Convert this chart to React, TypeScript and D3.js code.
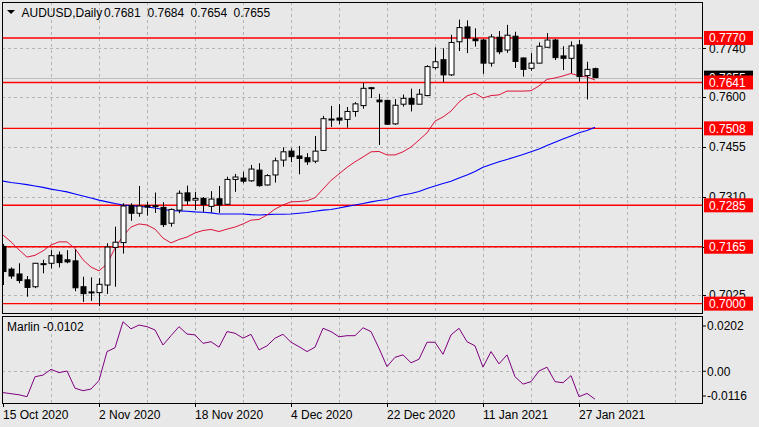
import React, { useEffect, useRef } from 'react';
import * as d3 from 'd3';

const W = 759;
const H = 427;

// daily candles, 15 Oct 2020 .. 29 Jan 2021
const opens = [
  0.7166, 0.7100, 0.7086, 0.7069, 0.7049, 0.7114, 0.7117, 0.7141, 0.7127, 0.7124,
  0.7049, 0.7033, 0.7032, 0.7054, 0.7163, 0.7177, 0.7284, 0.7262, 0.7284, 0.7283,
  0.7279, 0.7233, 0.7271, 0.7321, 0.7300, 0.7305, 0.7282, 0.7304, 0.7288, 0.7360,
  0.7364, 0.7356, 0.7387, 0.7344, 0.7373, 0.7416, 0.7442, 0.7428, 0.7423, 0.7413,
  0.7444, 0.7534, 0.7538, 0.7534, 0.7557, 0.7574, 0.7625, 0.7590, 0.7589, 0.7521,
  0.7578, 0.7595, 0.7578, 0.7603, 0.7684, 0.7707, 0.7663, 0.7759, 0.7802, 0.7767,
  0.7764, 0.7697, 0.7772, 0.7735, 0.7775, 0.7712, 0.7682, 0.7697, 0.7743, 0.7764,
  0.7718, 0.7711, 0.7750, 0.7661, 0.7681,
];
const highs = [
  0.7173, 0.7105, 0.7117, 0.7080, 0.7118, 0.7127, 0.7155, 0.7151, 0.7155, 0.7157,
  0.7078, 0.7076, 0.7074, 0.7175, 0.7223, 0.7291, 0.7291, 0.7341, 0.7295, 0.7322,
  0.7294, 0.7276, 0.7328, 0.7342, 0.7324, 0.7309, 0.7326, 0.7341, 0.7368, 0.7376,
  0.7382, 0.7402, 0.7407, 0.7375, 0.7423, 0.7453, 0.7450, 0.7457, 0.7436, 0.7486,
  0.7544, 0.7573, 0.7578, 0.7570, 0.7584, 0.7640, 0.7628, 0.7608, 0.7590, 0.7593,
  0.7606, 0.7623, 0.7622, 0.7691, 0.7743, 0.7740, 0.7779, 0.7823, 0.7821, 0.7798,
  0.7767, 0.7781, 0.7790, 0.7808, 0.7788, 0.7713, 0.7726, 0.7757, 0.7784, 0.7767,
  0.7746, 0.7760, 0.7764, 0.7701, 0.7684,
];
const lows = [
  0.7054, 0.7072, 0.7059, 0.7020, 0.7045, 0.7088, 0.7102, 0.7105, 0.7117, 0.7036,
  0.7005, 0.7008, 0.6993, 0.7028, 0.7049, 0.7145, 0.7240, 0.7252, 0.7255, 0.7263,
  0.7222, 0.7223, 0.7262, 0.7286, 0.7271, 0.7266, 0.7264, 0.7263, 0.7287, 0.7324,
  0.7349, 0.7353, 0.7339, 0.7342, 0.7351, 0.7397, 0.7410, 0.7375, 0.7402, 0.7407,
  0.7444, 0.7512, 0.7520, 0.7510, 0.7542, 0.7565, 0.7596, 0.7460, 0.7518, 0.7518,
  0.7571, 0.7557, 0.7578, 0.7601, 0.7679, 0.7642, 0.7660, 0.7732, 0.7726, 0.7745,
  0.7666, 0.7687, 0.7723, 0.7727, 0.7683, 0.7658, 0.7675, 0.7697, 0.7743, 0.7706,
  0.7677, 0.7668, 0.7643, 0.7592, 0.7654,
];
const closes = [
  0.7093, 0.7080, 0.7067, 0.7047, 0.7117, 0.7116, 0.7139, 0.7119, 0.7121, 0.7046,
  0.7029, 0.7034, 0.7056, 0.7164, 0.7178, 0.7283, 0.7262, 0.7283, 0.7280, 0.7284,
  0.7229, 0.7273, 0.7320, 0.7298, 0.7305, 0.7287, 0.7303, 0.7286, 0.7360, 0.7367,
  0.7355, 0.7390, 0.7342, 0.7371, 0.7414, 0.7440, 0.7426, 0.7421, 0.7411, 0.7442,
  0.7536, 0.7535, 0.7532, 0.7557, 0.7579, 0.7624, 0.7626, 0.7585, 0.7520, 0.7575,
  0.7595, 0.7578, 0.7607, 0.7687, 0.7701, 0.7663, 0.7757, 0.7800, 0.7770, 0.7762,
  0.7697, 0.7773, 0.7730, 0.7778, 0.7702, 0.7679, 0.7697, 0.7746, 0.7764, 0.7713,
  0.7711, 0.7747, 0.7658, 0.7679, 0.7655,
];

// moving averages
const fastMA = [
  0.7199, 0.7179, 0.7156, 0.7135, 0.7140, 0.7153, 0.7170, 0.7179, 0.7179, 0.7160,
  0.7127, 0.7106, 0.7095, 0.7115, 0.7161, 0.7196, 0.7222, 0.7231, 0.7228, 0.7216,
  0.7190, 0.7176, 0.7186, 0.7193, 0.7205, 0.7212, 0.7215, 0.7209, 0.7216, 0.7222,
  0.7231, 0.7242, 0.7244, 0.7257, 0.7274, 0.7286, 0.7295, 0.7296, 0.7298, 0.7307,
  0.7332, 0.7357, 0.7376, 0.7395, 0.7411, 0.7425, 0.7440, 0.7441, 0.7431, 0.7431,
  0.7440, 0.7454, 0.7474, 0.7495, 0.7529, 0.7541, 0.7558, 0.7584, 0.7602, 0.7610,
  0.7596, 0.7603, 0.7605, 0.7616, 0.7616, 0.7616, 0.7617, 0.7631, 0.7650, 0.7654,
  0.7660, 0.7667, 0.7660, 0.7657, 0.7648,
];
const slowMA = [
  0.7355, 0.7351, 0.7348, 0.7345, 0.7341, 0.7337, 0.7332, 0.7328, 0.7324, 0.7318,
  0.7312, 0.7306, 0.7300, 0.7295, 0.7290, 0.7286, 0.7284, 0.7282, 0.7280, 0.7277,
  0.7273, 0.7270, 0.7269, 0.7268, 0.7266, 0.7265, 0.7263, 0.7260, 0.7260, 0.7260,
  0.7260, 0.7258, 0.7257, 0.7258, 0.7259, 0.7259, 0.7260, 0.7262, 0.7264, 0.7268,
  0.7271, 0.7273, 0.7277, 0.7282, 0.7286, 0.7290, 0.7295, 0.7299, 0.7302, 0.7309,
  0.7315, 0.7319, 0.7325, 0.7334, 0.7341, 0.7348, 0.7355, 0.7364, 0.7373, 0.7383,
  0.7395, 0.7403, 0.7411, 0.7418, 0.7425, 0.7432, 0.7440, 0.7448, 0.7458, 0.7468,
  0.7477, 0.7486, 0.7495, 0.7502, 0.7511,
];

// Marlin oscillator
const marlin = [
  -0.0078, -0.0082, -0.0086, -0.0093, -0.0020, -0.0014, 0.0007, -0.0005, 0.0001, -0.0062,
  -0.0071, -0.0065, -0.0034, 0.0072, 0.0086, 0.0181, 0.0155, 0.0169, 0.0163, 0.0151,
  0.0096, 0.0130, 0.0163, 0.0136, 0.0133, 0.0102, 0.0108, 0.0088, 0.0145, 0.0139,
  0.0121, 0.0135, 0.0078, 0.0093, 0.0121, 0.0135, 0.0106, 0.0090, 0.0072, 0.0088,
  0.0157, 0.0145, 0.0126, 0.0130, 0.0130, 0.0159, 0.0145, 0.0084, 0.0017, 0.0051,
  0.0060, 0.0031, 0.0044, 0.0106, 0.0106, 0.0062, 0.0133, 0.0157, 0.0108, 0.0093,
  0.0015, 0.0072, 0.0027, 0.0060, -0.0020, -0.0047, -0.0038, 0.0001, 0.0015, -0.0038,
  -0.0042, -0.0016, -0.0093, -0.0081, -0.0102,
];

const levels = [0.7770, 0.7641, 0.7508, 0.7285, 0.7165, 0.7000];
const priceTicks = [0.7740, 0.7600, 0.7455, 0.7310, 0.7165, 0.7025];
const marlinTicks = [0.0202, 0.0, -0.0116];
const marlinTickLabels = ['0.0202', '0.00', '-0.0116'];
const dateLabels = ['15 Oct 2020', '2 Nov 2020', '18 Nov 2020', '4 Dec 2020', '22 Dec 2020', '11 Jan 2021', '27 Jan 2021'];
const dateStep = 12;
const gridStep = 6;

const FONT = '"Liberation Sans", Arial, sans-serif';
const BG = '#e8e8e8';
const GRID = '#b4b4b4';

export default function App() {
  const ref = useRef<SVGSVGElement>(null);

  useEffect(() => {
    if (!ref.current) return;
    const svg = d3.select(ref.current);
    svg.selectAll('*').remove();

    const main = { left: 2, right: 702, top: 2, bottom: 313 };
    const sub = { left: 2, right: 702, top: 316, bottom: 403 };
    const n = closes.length;

    const x = d3.scaleLinear().domain([0, n - 1]).range([3, 3 + 8 * (n - 1)]);
    const y = d3.scaleLinear().domain([0.69729, 0.78742]).range([main.bottom, main.top]);
    const ym = d3.scaleLinear().domain([-0.0116, 0.0202]).range([sub.bottom, sub.top]);

    svg.append('rect').attr('width', W).attr('height', H).attr('fill', BG);

    const defs = svg.append('defs');
    defs.append('clipPath').attr('id', 'clip-main').append('rect')
      .attr('x', main.left).attr('y', main.top)
      .attr('width', main.right - main.left).attr('height', main.bottom - main.top);
    defs.append('clipPath').attr('id', 'clip-sub').append('rect')
      .attr('x', sub.left).attr('y', sub.top)
      .attr('width', sub.right - sub.left).attr('height', sub.bottom - sub.top);

    // 1) GRID
    const grid = svg.append('g').attr('stroke', GRID).attr('stroke-dasharray', '3,3')
      .attr('shape-rendering', 'crispEdges');
    priceTicks.forEach(p => {
      grid.append('line').attr('x1', main.left).attr('x2', main.right)
        .attr('y1', Math.round(y(p)) + 0.5).attr('y2', Math.round(y(p)) + 0.5);
    });
    grid.append('line').attr('x1', sub.left).attr('x2', sub.right)
      .attr('y1', Math.round(ym(0)) + 0.5).attr('y2', Math.round(ym(0)) + 0.5);
    for (let i = gridStep; x(i) < main.right; i += gridStep) {
      const gx = Math.round(x(i)) + 0.5;
      grid.append('line').attr('x1', gx).attr('x2', gx).attr('y1', main.top).attr('y2', main.bottom);
      grid.append('line').attr('x1', gx).attr('x2', gx).attr('y1', sub.top).attr('y2', sub.bottom);
    }

    const plot = svg.append('g').attr('clip-path', 'url(#clip-main)');

    // bid line
    plot.append('line').attr('x1', main.left).attr('x2', main.right)
      .attr('y1', Math.round(y(closes[n - 1])) + 0.5).attr('y2', Math.round(y(closes[n - 1])) + 0.5)
      .attr('stroke', '#bdbdbd').attr('shape-rendering', 'crispEdges');

    // 2) LEVELS
    levels.forEach(l => {
      plot.append('line').attr('x1', main.left).attr('x2', main.right)
        .attr('y1', y(l)).attr('y2', y(l))
        .attr('stroke', '#ff0000').attr('stroke-width', 1.4);
    });

    // 3) MOVING AVERAGES
    const line = d3.line<number>().x((d, i) => x(i)).y(d => y(d));
    plot.append('path').attr('d', line(slowMA)).attr('fill', 'none')
      .attr('stroke', '#0000ff').attr('stroke-width', 1.1);
    plot.append('path').attr('d', line(fastMA)).attr('fill', 'none')
      .attr('stroke', '#dc143c').attr('stroke-width', 1);

    // 4) CANDLES
    const idx = d3.range(n);
    plot.selectAll('line.wick').data(idx).enter().append('line')
      .attr('class', 'wick')
      .attr('x1', i => Math.round(x(i)) + 0.5).attr('x2', i => Math.round(x(i)) + 0.5)
      .attr('y1', i => y(highs[i])).attr('y2', i => y(lows[i]))
      .attr('stroke', '#000');
    plot.selectAll('rect.body').data(idx).enter().append('rect')
      .attr('class', 'body')
      .attr('x', i => Math.round(x(i)) - 2)
      .attr('y', i => y(Math.max(opens[i], closes[i])))
      .attr('width', 5)
      .attr('height', i => Math.max(1, Math.abs(y(opens[i]) - y(closes[i]))))
      .attr('fill', i => (closes[i] >= opens[i] ? '#ffffff' : '#000000'))
      .attr('stroke', '#000').attr('stroke-width', 1);

    // 5) MARLIN
    const mline = d3.line<number>().x((d, i) => x(i)).y(d => ym(d));
    svg.append('g').attr('clip-path', 'url(#clip-sub)').append('path')
      .attr('d', mline(marlin)).attr('fill', 'none')
      .attr('stroke', '#800080').attr('stroke-width', 1);

    // 6) FRAMES
    [main, sub].forEach(p => {
      svg.append('rect').attr('x', p.left + 0.5).attr('y', p.top + 0.5)
        .attr('width', p.right - p.left).attr('height', p.bottom - p.top)
        .attr('fill', 'none').attr('stroke', '#000').attr('shape-rendering', 'crispEdges');
    });

    // 7) PRICE AXIS
    const axis = svg.append('g').attr('font-family', FONT).attr('font-size', 12);
    priceTicks.forEach(p => {
      axis.append('line').attr('x1', main.right).attr('x2', main.right + 4)
        .attr('y1', Math.round(y(p)) + 0.5).attr('y2', Math.round(y(p)) + 0.5).attr('stroke', '#000');
      axis.append('text').attr('x', 709).attr('y', y(p)).attr('dy', '0.36em')
        .attr('fill', '#000').text(p.toFixed(4));
    });
    const last = closes[n - 1];
    axis.append('rect').attr('x', 704).attr('y', y(last) - 7).attr('width', 49).attr('height', 14)
      .attr('fill', '#000');
    axis.append('text').attr('x', 709).attr('y', y(last)).attr('dy', '0.36em')
      .attr('fill', '#fff').text(last.toFixed(4));
    levels.forEach(l => {
      axis.append('rect').attr('x', 704).attr('y', y(l) - 7).attr('width', 49).attr('height', 14)
        .attr('fill', '#ff0000');
      axis.append('text').attr('x', 709).attr('y', y(l)).attr('dy', '0.36em')
        .attr('fill', '#fff').text(l.toFixed(4));
    });

    // 8) MARLIN AXIS
    marlinTicks.forEach((v, k) => {
      const ty = Math.min(Math.max(ym(v), sub.top + 10), sub.bottom - 7);
      axis.append('line').attr('x1', sub.right).attr('x2', sub.right + 4)
        .attr('y1', ty).attr('y2', ty).attr('stroke', '#000');
      axis.append('text').attr('x', 707).attr('y', ty).attr('dy', '0.36em')
        .attr('fill', '#000').text(marlinTickLabels[k]);
    });

    // 9) DATE AXIS
    dateLabels.forEach((lab, k) => {
      const dx = Math.round(x(k * dateStep)) + 0.5;
      axis.append('line').attr('x1', dx).attr('x2', dx).attr('y1', sub.bottom).attr('y2', sub.bottom + 4)
        .attr('stroke', '#000');
      axis.append('text').attr('x', dx - 0.5).attr('y', 419).attr('fill', '#000').text(lab);
    });

    // 10) TITLES
    svg.append('path').attr('d', 'M7,10 L15,10 L11,14 Z').attr('fill', '#000');
    const head = [`AUDUSD,Daily`, opens[n - 1], highs[n - 1], lows[n - 1], closes[n - 1]];
    const headX = [21.5, 104, 147.5, 190.5, 233.5];
    head.forEach((h, k) => {
      axis.append('text').attr('x', headX[k]).attr('y', 17).attr('fill', '#000')
        .text(typeof h === 'number' ? h.toFixed(4) : h);
    });
    axis.append('text').attr('x', 7).attr('y', 331).attr('fill', '#000')
      .text(`Marlin ${marlin[n - 1].toFixed(4)}`);
  }, []);

  return (
    <svg
      ref={ref}
      width={W}
      height={H}
      style={{ position: 'fixed', left: 0, top: 0, display: 'block' }}
    />
  );
}
